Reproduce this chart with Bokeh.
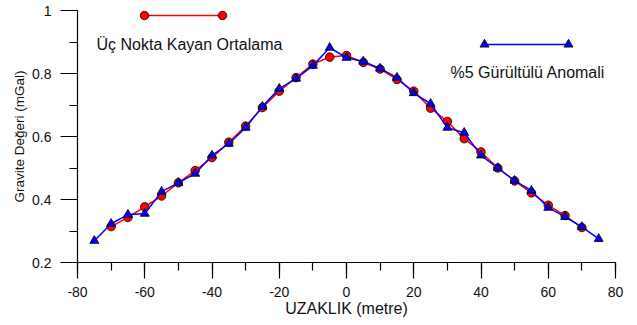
from bokeh.plotting import figure
from bokeh.models import Range1d, SingleIntervalTicker, CustomJSTickFormatter, ColumnDataSource
from bokeh.core.properties import value
from bokeh.embed import file_html
from bokeh.resources import INLINE

# ---- data ----
x_noisy = [-75, -70, -65, -60, -55, -50, -45, -40, -35, -30, -25, -20, -15, -10, -5, 0,
           5, 10, 15, 20, 25, 30, 35, 40, 45, 50, 55, 60, 65, 70, 75]
noisy = [0.269, 0.323, 0.352, 0.355, 0.425, 0.453, 0.482, 0.540, 0.577, 0.628, 0.695,
         0.752, 0.784, 0.825, 0.882, 0.850, 0.838, 0.816, 0.787, 0.738, 0.704, 0.628,
         0.612, 0.540, 0.500, 0.460, 0.428, 0.374, 0.345, 0.313, 0.275]
x_avg = [-70, -65, -60, -55, -50, -45, -40, -35, -30, -25, -20, -15, -10, -5, 0,
         5, 10, 15, 20, 25, 30, 35, 40, 45, 50, 55, 60, 65, 70]
avg3 = [0.314, 0.343, 0.377, 0.411, 0.453, 0.492, 0.533, 0.582, 0.633, 0.692, 0.744,
        0.787, 0.830, 0.852, 0.857, 0.835, 0.814, 0.781, 0.744, 0.690, 0.648, 0.593,
        0.551, 0.500, 0.459, 0.421, 0.382, 0.349, 0.311]

label_avg = "Üç Nokta Kayan Ortalama"
label_noisy = "%5 Gürültülü Anomali"
x_title = "UZAKLIK (metre)"
y_title = "Gravite Değeri (mGal)"

FONT = "Liberation Sans"
RED = "#ff0000"
BLUE = "#0000ff"

# frame geometry (canvas pixels)
LEFT, RIGHT, TOP, BOTTOM = 77, 615, 10, 262
W, H = 637, 325

p = figure(width=W, height=H, output_backend="svg", toolbar_location=None,
           x_range=Range1d(-80, 80), y_range=Range1d(0.2, 1.0),
           min_border_left=LEFT, min_border_right=W - RIGHT,
           min_border_top=TOP, min_border_bottom=H - BOTTOM)
p.outline_line_color = None
p.xgrid.visible = False
p.ygrid.visible = False
p.background_fill_color = "white"
p.border_fill_color = "white"

# axes
p.xaxis.ticker = SingleIntervalTicker(interval=20, num_minor_ticks=2)
p.yaxis.ticker = SingleIntervalTicker(interval=0.2, num_minor_ticks=2)
p.xaxis.formatter = CustomJSTickFormatter(code="return Math.round(tick).toString();")
p.yaxis.formatter = CustomJSTickFormatter(code="return Number(tick.toFixed(1)).toString();")
for ax in (p.xaxis[0], p.yaxis[0]):
    ax.axis_line_color = "black"
    ax.axis_line_width = 1.2
    ax.major_tick_line_color = "black"
    ax.minor_tick_line_color = "black"
    ax.major_tick_line_width = 1.2
    ax.minor_tick_line_width = 1.2
    ax.major_tick_in = 0
    ax.minor_tick_in = 0
    ax.major_label_text_font = FONT
    ax.major_label_text_font_size = "14px"
    ax.major_label_text_color = "#111111"
    ax.axis_label_text_font = FONT
    ax.axis_label_text_font_style = "normal"
    ax.axis_label_text_color = "#111111"

p.xaxis.major_tick_out = 16
p.xaxis.minor_tick_out = 8
p.xaxis.major_label_standoff = 8
p.xaxis.axis_label = x_title
p.xaxis.axis_label_text_font_size = "16px"
p.xaxis.axis_label_standoff = 0

p.yaxis.major_tick_out = 17
p.yaxis.minor_tick_out = 8
p.yaxis.major_label_standoff = 9
p.yaxis.axis_label = y_title
p.yaxis.axis_label_text_font_size = "13.5px"
p.yaxis.axis_label_standoff = 2

# series
p.line(x_avg, avg3, line_color=RED, line_width=1.5)
p.scatter(x_avg, avg3, marker="circle", size=8.5, fill_color=RED, line_color="black", line_width=0.8)
p.line(x_noisy, noisy, line_color=BLUE, line_width=1.5)
p.scatter(x_noisy, noisy, marker="triangle", size=9, fill_color=BLUE, line_color="black", line_width=0.8)

# legend drawn in canvas-pixel coordinates through extra ranges
p.extra_x_ranges["px"] = Range1d(LEFT, RIGHT)
p.extra_y_ranges["px"] = Range1d(BOTTOM, TOP)

legend_avg = dict(x0=144, x1=222, y=15, tx=96, ty=44)
legend_noisy = dict(x0=484, x1=568, y=44, tx=450, ty=72)

p.line([legend_avg["x0"], legend_avg["x1"]], [legend_avg["y"]] * 2, line_color=RED, line_width=1.5,
       x_range_name="px", y_range_name="px")
p.scatter([legend_avg["x0"], legend_avg["x1"]], [legend_avg["y"]] * 2, marker="circle", size=8.5,
          fill_color=RED, line_color="black", line_width=0.8, x_range_name="px", y_range_name="px")
p.line([legend_noisy["x0"], legend_noisy["x1"]], [legend_noisy["y"]] * 2, line_color=BLUE, line_width=1.5,
       x_range_name="px", y_range_name="px")
p.scatter([legend_noisy["x0"], legend_noisy["x1"]], [legend_noisy["y"]] * 2, marker="triangle", size=9,
          fill_color=BLUE, line_color="black", line_width=0.8, x_range_name="px", y_range_name="px")

src = ColumnDataSource(dict(x=[legend_avg["tx"], legend_noisy["tx"]],
                            y=[legend_avg["ty"], legend_noisy["ty"]],
                            t=[label_avg, label_noisy]))
p.text(x="x", y="y", text="t", source=src, text_font=value(FONT), text_font_size="16px",
       text_color="#111111", text_align="left", text_baseline="middle",
       x_range_name="px", y_range_name="px")

open("out.html", "w").write(file_html(p, INLINE))
